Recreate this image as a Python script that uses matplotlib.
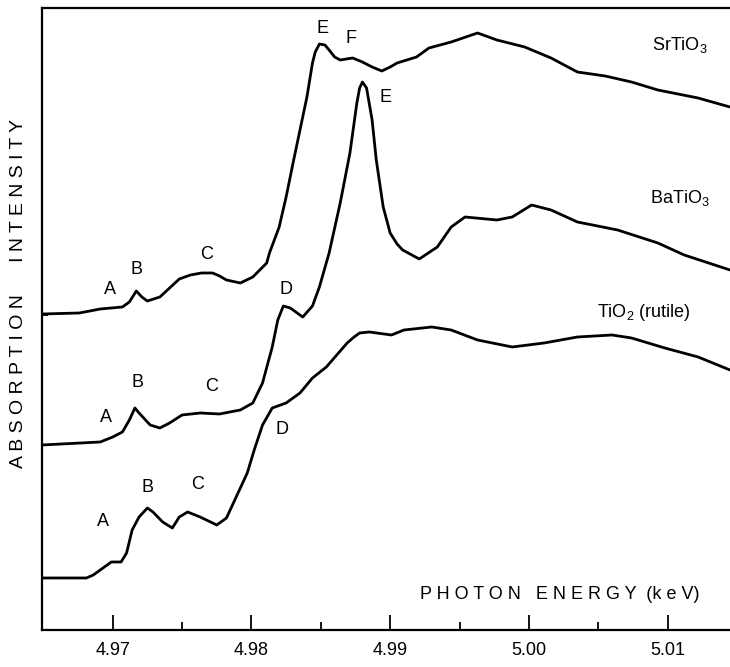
import matplotlib
matplotlib.use('Agg')
import matplotlib.pyplot as plt

plt.rcParams['font.family'] = ['Liberation Sans', 'DejaVu Sans']
plt.rcParams['mathtext.fontset'] = 'custom'
plt.rcParams['mathtext.rm'] = 'Liberation Sans'

# энергия фотона, keV, и интенсивность (отн. ед.) со сдвигом по вертикали
sr_energy = [4.9649, 4.9676, 4.9691, 4.9707, 4.9712, 4.9717, 4.9721, 4.9725, 4.9734,
             4.9741, 4.9748, 4.9756, 4.9764, 4.9772, 4.9777, 4.9782, 4.9792, 4.9801,
             4.9806, 4.9811, 4.9813, 4.9820, 4.9825, 4.9830, 4.9835, 4.9840, 4.9844,
             4.9846, 4.9849, 4.9853, 4.9856, 4.9860, 4.9864, 4.9873, 4.9880, 4.9887,
             4.9894, 4.9900, 4.9905, 4.9919, 4.9928, 4.9944, 4.9963, 4.9977, 4.9997,
             5.0016, 5.0035, 5.0055, 5.0074, 5.0093, 5.0122, 5.0145]
sr_int = [3.16, 3.17, 3.21, 3.23, 3.28, 3.39, 3.33, 3.29, 3.33,
          3.42, 3.51, 3.55, 3.57, 3.57, 3.54, 3.50, 3.47, 3.53,
          3.60, 3.67, 3.77, 4.03, 4.33, 4.67, 5.00, 5.33, 5.67,
          5.78, 5.86, 5.85, 5.80, 5.73, 5.70, 5.72, 5.68, 5.63,
          5.59, 5.63, 5.67, 5.73, 5.82, 5.88, 5.97, 5.90, 5.83,
          5.72, 5.58, 5.54, 5.48, 5.40, 5.32, 5.23]

ba_energy = [4.9649, 4.9691, 4.9700, 4.9707, 4.9712, 4.9716, 4.9719, 4.9727, 4.9734,
             4.9741, 4.9750, 4.9763, 4.9777, 4.9792, 4.9801, 4.9808, 4.9815, 4.9819,
             4.9823, 4.9828, 4.9837, 4.9844, 4.9849, 4.9856, 4.9864, 4.9871, 4.9876,
             4.9878, 4.9880, 4.9883, 4.9887, 4.9890, 4.9895, 4.9900, 4.9905, 4.9909,
             4.9921, 4.9934, 4.9944, 4.9954, 4.9977, 4.9988, 5.0002, 5.0016, 5.0035,
             5.0064, 5.0093, 5.0112, 5.0145]
ba_int = [1.85, 1.88, 1.93, 1.98, 2.10, 2.22, 2.17, 2.05, 2.02,
          2.07, 2.15, 2.17, 2.16, 2.20, 2.27, 2.47, 2.83, 3.10,
          3.24, 3.22, 3.13, 3.24, 3.43, 3.77, 4.27, 4.77, 5.27,
          5.42, 5.48, 5.42, 5.10, 4.70, 4.23, 3.97, 3.86, 3.80,
          3.71, 3.83, 4.03, 4.13, 4.10, 4.13, 4.25, 4.20, 4.08,
          4.00, 3.87, 3.75, 3.60]

ti_energy = [4.9649, 4.9681, 4.9686, 4.9693, 4.9699, 4.9706, 4.9710, 4.9714, 4.9719,
             4.9725, 4.9729, 4.9736, 4.9743, 4.9748, 4.9754, 4.9763, 4.9775, 4.9782,
             4.9789, 4.9797, 4.9802, 4.9808, 4.9815, 4.9825, 4.9835, 4.9844, 4.9854,
             4.9869, 4.9874, 4.9878, 4.9885, 4.9901, 4.9910, 4.9930, 4.9944, 4.9963,
             4.9988, 5.0011, 5.0035, 5.0060, 5.0074, 5.0098, 5.0122, 5.0145]
ti_int = [0.52, 0.52, 0.55, 0.62, 0.68, 0.68, 0.77, 1.00, 1.13,
          1.22, 1.18, 1.08, 1.02, 1.13, 1.18, 1.13, 1.05, 1.12,
          1.33, 1.57, 1.80, 2.05, 2.22, 2.27, 2.37, 2.52, 2.63,
          2.87, 2.93, 2.97, 2.98, 2.95, 3.00, 3.03, 3.00, 2.90,
          2.83, 2.87, 2.93, 2.95, 2.92, 2.82, 2.73, 2.60]

baselines = [3.15, 1.85, 0.52]

# подписи особенностей спектров: (буква, энергия, интенсивность)
peak_labels = [
    ('A', 4.9698, 3.40), ('B', 4.9717, 3.60), ('C', 4.9768, 3.75),
    ('E', 4.9851, 6.02), ('F', 4.9872, 5.92),
    ('A', 4.9695, 2.12), ('B', 4.9718, 2.47), ('C', 4.9771, 2.43),
    ('D', 4.9825, 3.40), ('E', 4.9897, 5.33),
    ('A', 4.9693, 1.08), ('B', 4.9725, 1.42), ('C', 4.9761, 1.45),
    ('D', 4.9822, 2.00),
]
compounds = [('SrTiO$_3$', 5.0109, 5.85), ('BaTiO$_3$', 5.0109, 4.32),
             ('TiO$_2$ (rutile)', 5.0083, 3.17)]

xticks = [4.97, 4.98, 4.99, 5.00, 5.01]
xtick_labels = ['4.97', '4.98', '4.99', '5.00', '5.01']
xminor = [4.975, 4.985, 4.995, 5.005]

fig = plt.figure(figsize=(7.30, 6.67), dpi=100)
ax = fig.add_axes([0.0575, 0.0555, 0.9425, 0.9325])

for e, y in [(sr_energy, sr_int), (ba_energy, ba_int), (ti_energy, ti_int)]:
    ax.plot(e, y, color='black', lw=2.0, solid_joinstyle='round', solid_capstyle='round')

for t, x, y in peak_labels:
    ax.text(x, y, t, ha='center', va='center', fontsize=13)
for t, x, y in compounds:
    ax.text(x, y, t, ha='center', va='center', fontsize=13)

ax.text(5.0022, 0.35, 'P H O T O N   E N E R G Y  (k e V)', ha='center', va='center', fontsize=13)
fig.text(19 / 730, 0.56, 'A B S O R P T I O N      I N T E N S I T Y',
         rotation=90, ha='center', va='center', fontsize=14)

ax.set_xlim(4.9649, 5.0145)
ax.set_ylim(0, 6.22)
ax.set_xticks(xticks)
ax.set_xticklabels(xtick_labels, fontsize=13)
ax.set_xticks(xminor, minor=True)
ax.tick_params(axis='x', which='major', direction='in', length=11, width=1.3, pad=9)
ax.tick_params(axis='x', which='minor', direction='in', length=6, width=1.3)
ax.set_yticks(baselines)
ax.set_yticklabels([])
ax.tick_params(axis='y', direction='in', length=4, width=1.3)

ax.spines['right'].set_visible(False)
for s in ['left', 'bottom', 'top']:
    ax.spines[s].set_linewidth(1.6)

plt.savefig('out.png', dpi=100)
print("out.png is ready")
